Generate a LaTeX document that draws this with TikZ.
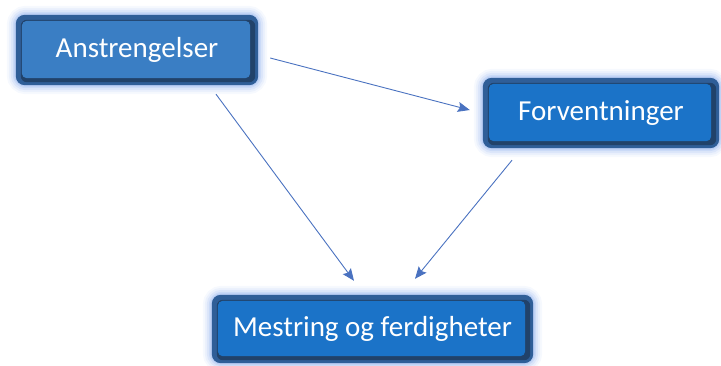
\documentclass[tikz,border=0pt]{standalone}
\usepackage{fontspec}
\setmainfont{Carlito}
\usetikzlibrary{calc,arrows.meta,backgrounds}
\definecolor{edgeblue}{HTML}{2F5E98}
\definecolor{faceA}{HTML}{3A7EC4}
\definecolor{faceB}{HTML}{1B73C8}
\definecolor{glowblue}{HTML}{A9C2F2}
\definecolor{arrblue}{HTML}{4A72C0}
\tikzset{
  box/.style={inner sep=0pt, text=white, font=\fontsize{29}{34}\selectfont},
  arr/.style={draw=arrblue, line width=0.9pt, -{Stealth[length=12pt,width=10pt,inset=2pt]}}
}
\newcommand{\bevelbox}[2]{%
  \foreach \w/\o in {18/0.10,14/0.15,10/0.22,6/0.35,3/0.5}{
    \draw[glowblue, line width=\w pt, opacity=\o, rounded corners=10pt]
      (#1.north west) rectangle (#1.south east);
  }
  \fill[edgeblue, rounded corners=9pt] (#1.north west) rectangle (#1.south east);
  \fill[edgeblue!70!black, rounded corners=6pt]
    ($(#1.north west)+(5,5)$) rectangle ($(#1.south east)+(-3,-3)$);
  \fill[#2, rounded corners=5pt]
    ($(#1.north west)+(6,6)$) rectangle ($(#1.south east)+(-8,-7)$);
}
\begin{document}
\begin{tikzpicture}[x=1pt,y=-1pt]
\useasboundingbox (0,0) rectangle (721,365);
\node[box, minimum width=242pt, minimum height=70pt] (a) at (137,50) {Anstrengelser};
\node[box, minimum width=236pt, minimum height=70pt] (f) at (601,113) {Forventninger};
\node[box, minimum width=321pt, minimum height=68pt] (m) at (372.5,329) {Mestring og ferdigheter};
\begin{scope}[on background layer]
  \bevelbox{a}{faceA}
  \bevelbox{f}{faceB}
  \bevelbox{m}{faceB}
\end{scope}
\draw[arr] ($(a.east)+(12,8)$) -- ($(f.west)+(-13,-3)$);
\draw[arr] ($(a.south)+(79,9)$) -- ($(m.north)+(-18.5,-14)$);
\draw[arr] ($(f.south)+(-89,12)$) -- ($(m.north)+(42.5,-16)$);
\end{tikzpicture}
\end{document}
